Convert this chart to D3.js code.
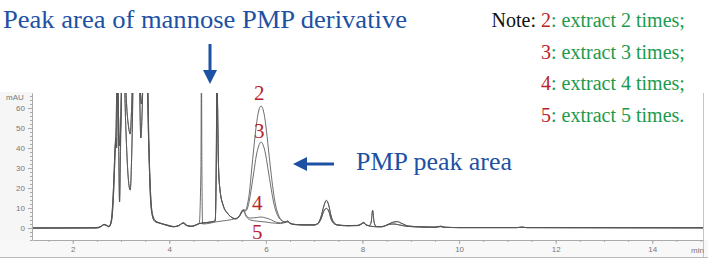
<!DOCTYPE html>
<meta charset="utf-8">
<html>
<head>
<style>
  body { margin: 0; background: #fff; }
  .axis text { fill: #777; font-size: 8px; font-family: "Liberation Sans", Arial, sans-serif; }
  .axis line, .axis path { stroke: #aaa; }
  .note { font-family: "Liberation Serif", "Times New Roman", serif; font-size: 20px; }
  .big { font-family: "Liberation Serif", "Times New Roman", serif; font-size: 25px; fill: #1d51a3; }
  .num { font-family: "Liberation Serif", "Times New Roman", serif; font-size: 21px; fill: #b8232b; text-anchor: middle; }
</style>
</head>
<body>
<div id="chart"></div>
<script src="https://cdn.jsdelivr.net/npm/d3@7"></script>
<script>
// retention time (min), absorbance (mAU) pairs
var clusterA = [[1.18,0],[2.5,0],[2.58,0.6],[2.65,1.6],[2.7,1.2],[2.75,0.6],[2.8,3],[2.84,14],[2.87,32],[2.89,45],[2.91,40],[2.93,75],[2.95,45],[2.97,13],[2.99,40],[3.02,85],[3.06,80],[3.1,50],[3.15,25],[3.19,19],[3.23,45],[3.26,85],[3.32,95],[3.38,75],[3.41,45],[3.44,60],[3.47,90],[3.53,85],[3.57,45],[3.61,15],[3.65,6],[3.7,3.3],[3.8,2.4],[3.95,1.3],[4.08,0.6],[4.2,1.2],[4.28,2.4],[4.36,1.2],[4.45,0.8],[4.57,1.6]];
var clusterB = [[1.18,0],[2.5,0.2],[2.58,0.8],[2.65,1.8],[2.7,1.4],[2.75,0.8],[2.8,4],[2.84,18],[2.87,36],[2.9,52],[2.92,80],[2.95,55],[2.97,41],[3.0,55],[3.03,85],[3.08,80],[3.12,60],[3.16,50],[3.19,47],[3.22,60],[3.25,85],[3.32,95],[3.38,80],[3.42,62],[3.45,70],[3.48,90],[3.54,85],[3.58,40],[3.62,14],[3.66,6],[3.72,3.5],[3.82,2.4],[3.97,1.4],[4.1,0.7],[4.2,1.3],[4.29,2.6],[4.37,1.3],[4.46,0.9],[4.57,1.8]];

// mannose derivative peak (off scale)
var mannoseA = [[4.62,2.2],[4.8,2.8],[4.95,3.5],[4.975,40],[4.985,90],[5.0,60],[5.02,30],[5.05,19],[5.12,11],[5.2,7.5],[5.28,5.5],[5.38,4.6]];
var mannoseB = [[4.62,2.4],[4.655,30],[4.665,90],[4.675,30],[4.69,2],[5.0,3.2],[5.38,4.8]];

// PMP peak, one per extraction count
var pmp2 = [[5.45,6],[5.53,9.2],[5.58,9],[5.62,12],[5.66,18],[5.7,28],[5.75,40],[5.8,51],[5.85,58.5],[5.9,61],[5.95,58.5],[6.0,51],[6.05,40],[6.1,29],[6.15,19],[6.2,11.5],[6.26,6.5],[6.32,4],[6.4,3],[6.45,3.5],[6.5,2.5]];
var pmp3 = [[5.45,6],[5.53,8.8],[5.58,8.5],[5.62,10],[5.66,14],[5.7,20],[5.75,28],[5.8,36],[5.85,41],[5.9,43],[5.95,41],[6.0,36],[6.05,28.5],[6.1,21],[6.15,14],[6.2,9],[6.26,5.5],[6.32,3.8],[6.4,3],[6.45,3.5],[6.5,2.4]];
var pmp4 = [[5.45,6],[5.53,9],[5.6,6],[5.68,5],[5.8,5.2],[5.9,5.5],[6.0,5],[6.1,4.2],[6.2,3],[6.3,2.6],[6.45,3.2],[6.5,2.4]];
var pmp5 = [[5.45,5.8],[5.53,8.5],[5.6,5.5],[5.68,4],[5.8,3.5],[5.9,3.2],[6.0,3],[6.1,2.6],[6.2,2.4],[6.3,2.2],[6.45,3],[6.5,2.2]];

var tailHigh = [[6.6,1.8],[6.8,1.6],[7.0,1.6],[7.08,2.4],[7.14,5.5],[7.2,11],[7.25,13.8],[7.3,11.5],[7.35,6],[7.42,2.4],[7.5,1.5],[7.7,1.2],[7.9,1.3],[7.97,2],[8.02,2.8],[8.08,1.6],[8.14,1.2],[8.18,3],[8.21,8.8],[8.24,3],[8.28,0.8],[8.4,0.6],[8.5,1.5],[8.62,2.8],[8.72,3.2],[8.82,2.2],[8.95,1.0],[9.2,0.6],[9.5,0.4],[9.62,0.9],[9.7,0.4],[10,0.2],[11.2,0.2],[11.3,0.4],[11.4,0.2],[15.1,0.1]];
var tailLow = [[6.6,1.7],[6.8,1.5],[7.0,1.5],[7.08,2.2],[7.14,4.5],[7.2,8.5],[7.25,9.8],[7.3,8.5],[7.35,4.5],[7.42,2],[7.5,1.4],[7.7,1.1],[7.9,1.2],[7.97,1.8],[8.02,2.5],[8.08,1.4],[8.2,0.8],[8.3,0.6],[8.45,0.9],[8.55,1.8],[8.65,2],[8.75,1.6],[8.9,0.9],[9.2,0.5],[9.5,0.4],[9.62,0.7],[9.7,0.3],[10,0.2],[11.2,0.2],[11.3,0.4],[11.4,0.2],[15.1,0.1]];

var traces = [
  clusterA.concat(mannoseA, pmp2, tailHigh),
  clusterA.concat(mannoseA, pmp3, tailHigh),
  clusterB.concat(mannoseA, pmp4, tailLow),
  clusterB.concat(mannoseB, pmp5, tailLow)
];

var xMajor = [2, 4, 6, 8, 10, 12, 14];
var yMajor = [0, 10, 20, 30, 40, 50, 60];
var noteNums = ["2", "3", "4", "5"];
var noteTexts = [": extract 2 times;", ": extract 3 times;", ": extract 4 times;", ": extract 5 times."];
var peakLabels = [{t: 5.86, v: 64, s: "2"}, {t: 5.86, v: 45, s: "3"}, {t: 5.82, v: 8.8, s: "4"}, {t: 5.82, v: -5.6, s: "5"}];

var W = 708, H = 266;
var plotL = 33, plotR = 703, plotT = 93, plotB = 240;

var svg = d3.select("#chart").append("svg")
  .attr("width", W).attr("height", H);

var x = d3.scaleLinear().domain([1.178, 15.05]).range([plotL, plotR]);
var y = d3.scaleLinear().domain([-6, 67.5]).range([plotB, plotT]);

// axis panels
svg.append("rect").attr("x", 0).attr("y", plotT - 1).attr("width", plotL - 1).attr("height", plotB - plotT + 1).attr("fill", "#f6f6f6");
svg.append("rect").attr("x", 0).attr("y", plotB).attr("width", W).attr("height", 17).attr("fill", "#f8f8f8");
svg.append("line").attr("x1", 0).attr("x2", W).attr("y1", 257.5).attr("y2", 257.5).attr("stroke", "#bbb");
svg.append("line").attr("x1", plotR + 0.5).attr("x2", plotR + 0.5).attr("y1", plotT).attr("y2", 257).attr("stroke", "#c4c4c4");

// x axis
var xMinor = d3.range(1.5, 15.01, 0.5);
svg.append("g").attr("class", "axis").attr("transform", "translate(0," + plotB + ")")
  .call(d3.axisBottom(x).tickValues(xMinor).tickSize(2).tickFormat("").tickSizeOuter(0));
svg.append("g").attr("class", "axis").attr("transform", "translate(0," + plotB + ")")
  .call(d3.axisBottom(x).tickValues(xMajor).tickSize(4).tickPadding(2).tickSizeOuter(0));
svg.append("text").attr("x", 691).attr("y", 253)
  .style("font-size", "8px").style("fill", "#777").style("font-family", "Liberation Sans, Arial, sans-serif").text("min");

// y axis
var yMinor = d3.range(-6, 67, 2);
svg.append("g").attr("class", "axis").attr("transform", "translate(" + (plotL - 1) + ",0)")
  .call(d3.axisLeft(y).tickValues(yMinor).tickSize(2).tickFormat("").tickSizeOuter(0));
svg.append("g").attr("class", "axis").attr("transform", "translate(" + (plotL - 1) + ",0)")
  .call(d3.axisLeft(y).tickValues(yMajor).tickSize(4).tickPadding(3).tickSizeOuter(0));
svg.append("text").attr("x", 6).attr("y", 100)
  .style("font-size", "8px").style("fill", "#777").style("font-family", "Liberation Sans, Arial, sans-serif").text("mAU");

// traces
svg.append("clipPath").attr("id", "clip").append("rect")
  .attr("x", plotL).attr("y", plotT).attr("width", plotR - plotL).attr("height", plotB - plotT);

var line = d3.line()
  .x(function(d) { return x(d[0]); })
  .y(function(d) { return y(d[1]); })
  .curve(d3.curveMonotoneX);

svg.append("g").attr("clip-path", "url(#clip)")
  .selectAll("path").data(traces).enter().append("path")
  .attr("d", line)
  .attr("fill", "none")
  .attr("stroke", "#555")
  .attr("stroke-opacity", 0.85)
  .attr("stroke-width", 1);

// peak labels
svg.selectAll(".num").data(peakLabels).enter().append("text")
  .attr("class", "num")
  .attr("x", function(d) { return x(d.t); })
  .attr("y", function(d) { return y(d.v); })
  .text(function(d) { return d.s; });

// annotations
var blue = "#1d51a3";
svg.append("text").attr("class", "big").attr("x", 3).attr("y", 28)
  .attr("textLength", 404).attr("lengthAdjust", "spacingAndGlyphs")
  .text("Peak area of mannose PMP derivative");
svg.append("text").attr("class", "big").attr("x", 356).attr("y", 170)
  .attr("textLength", 156).attr("lengthAdjust", "spacingAndGlyphs")
  .text("PMP peak area");

svg.append("line").attr("x1", 210).attr("x2", 210).attr("y1", 44).attr("y2", 72)
  .attr("stroke", blue).attr("stroke-width", 3);
svg.append("path").attr("d", "M203,70 L217,70 L210,84 Z").attr("fill", blue);

svg.append("line").attr("x1", 305).attr("x2", 334).attr("y1", 164).attr("y2", 164)
  .attr("stroke", blue).attr("stroke-width", 3);
svg.append("path").attr("d", "M307,157 L307,171 L293,164 Z").attr("fill", blue);

// note
svg.append("text").attr("class", "note").attr("x", 536).attr("y", 27)
  .attr("text-anchor", "end").attr("fill", "#111").text("Note:");
var noteG = svg.selectAll(".noteline").data(noteNums).enter().append("text")
  .attr("class", "note")
  .attr("x", 541)
  .attr("y", function(d, i) { return 27 + i * 31.6; });
noteG.append("tspan").attr("fill", "#b8232b").text(function(d) { return d; });
noteG.append("tspan").attr("fill", "#1b9a4f").text(function(d, i) { return noteTexts[i]; });
</script>
</body>
</html>
